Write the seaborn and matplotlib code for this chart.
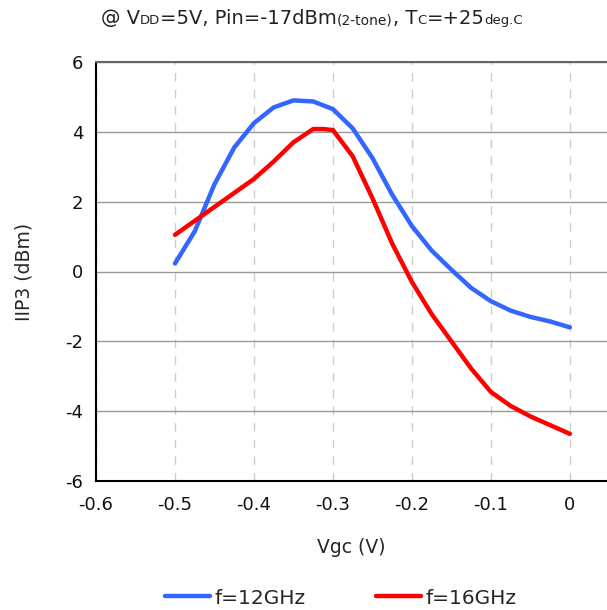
import pandas as pd
import matplotlib
matplotlib.use('Agg')
import matplotlib.pyplot as plt
import seaborn as sns

# Vgc sweep and IIP3 values
vgc_12 = [-0.5, -0.475, -0.45, -0.425, -0.4, -0.375, -0.35, -0.325, -0.3, -0.275,
          -0.25, -0.225, -0.2, -0.175, -0.15, -0.125, -0.1, -0.075, -0.05, -0.025, 0.0]
iip3_12 = [0.23, 1.15, 2.5, 3.55, 4.25, 4.7, 4.9, 4.87, 4.65, 4.1,
           3.25, 2.2, 1.3, 0.6, 0.05, -0.47, -0.85, -1.12, -1.3, -1.43, -1.6]

vgc_16 = [-0.5, -0.475, -0.45, -0.425, -0.4, -0.375, -0.35, -0.325, -0.3125, -0.3, -0.275,
          -0.25, -0.225, -0.2, -0.175, -0.15, -0.125, -0.1, -0.075, -0.05, -0.025, 0.0]
iip3_16 = [1.05, 1.45, 1.85, 2.25, 2.65, 3.15, 3.7, 4.08, 4.08, 4.05, 3.3,
           2.1, 0.8, -0.3, -1.22, -2.0, -2.78, -3.45, -3.85, -4.15, -4.4, -4.65]

labels = ['f=12GHz', 'f=16GHz']
colors = ['#3366FF', '#FF0000']

df = pd.concat([
    pd.DataFrame({'Vgc': vgc_12, 'IIP3': iip3_12, 'freq': labels[0]}),
    pd.DataFrame({'Vgc': vgc_16, 'IIP3': iip3_16, 'freq': labels[1]}),
])

sns.set_style('white')
plt.rcParams['font.family'] = ['DejaVu Sans']

fig = plt.figure(figsize=(6.07, 6.10), dpi=100)
ax = fig.add_axes([96 / 607, 1 - 481 / 610, (607 - 96) / 607, (481 - 62) / 610])

sns.lineplot(data=df, x='Vgc', y='IIP3', hue='freq', palette=dict(zip(labels, colors)),
             linewidth=3.2, sort=False, estimator=None, ax=ax)

ax.set_xlim(-0.6, 0.047)
ax.set_ylim(-6, 6)
ax.set_xticks([-0.6, -0.5, -0.4, -0.3, -0.2, -0.1, 0])
ax.set_xticklabels(['-0.6', '-0.5', '-0.4', '-0.3', '-0.2', '-0.1', '0'])
ax.set_yticks([-6, -4, -2, 0, 2, 4, 6])
ax.set_yticklabels(['-6', '-4', '-2', '0', '2', '4', '6'])
ax.tick_params(axis='both', labelsize=13, direction='in', length=4, color='black', labelcolor='#111111')
ax.tick_params(axis='x', pad=11)
ax.tick_params(axis='y', pad=9)
ax.grid(axis='y', color='#999999', linewidth=1.0, linestyle='-')
ax.grid(axis='x', color='#cccccc', linewidth=1.0, linestyle=(0, (6, 6)))
ax.set_axisbelow(True)
for s in ['left', 'bottom']:
    ax.spines[s].set_color('black')
    ax.spines[s].set_linewidth(1.5)
ax.spines['top'].set_color('#666666')
ax.spines['top'].set_linewidth(1.5)
ax.spines['right'].set_visible(False)

ax.set_xlabel('Vgc (V)', fontsize=13.5)
ax.set_ylabel('IIP3 (dBm)', fontsize=13.5)
ax.xaxis.set_label_coords((351 - 96) / (607 - 96), -(538 - 481) / (481 - 62))
ax.yaxis.set_label_coords(-(96 - 34) / (607 - 96), 0.5)

leg = ax.legend(loc='center', bbox_to_anchor=(341 / 607, 1 - 598 / 610), bbox_transform=fig.transFigure,
                ncol=2, frameon=False, fontsize=14.5, handlelength=2.2, handletextpad=0.25,
                columnspacing=3.5)

# title with small subscript pieces, laid out one after another
pieces = [('@ V', 14), ('DD', 9.5), ('=5V, Pin=-17dBm', 14), ('(2-tone)', 10), (', T', 14),
          ('C', 9.5), ('=+25', 14), ('deg.C', 9.5)]
fig.canvas.draw()
r = fig.canvas.get_renderer()
texts = []
for s, fs in pieces:
    t = fig.text(0, 1 - 24 / 610, s, fontsize=fs, ha='left', va='baseline', color='#222222')
    texts.append(t)
widths = [t.get_window_extent(r).width for t in texts]
x = 312 - sum(widths) / 2
for t, w in zip(texts, widths):
    t.set_x(x / 607)
    x += w

fig.savefig('out.png', dpi=100)
